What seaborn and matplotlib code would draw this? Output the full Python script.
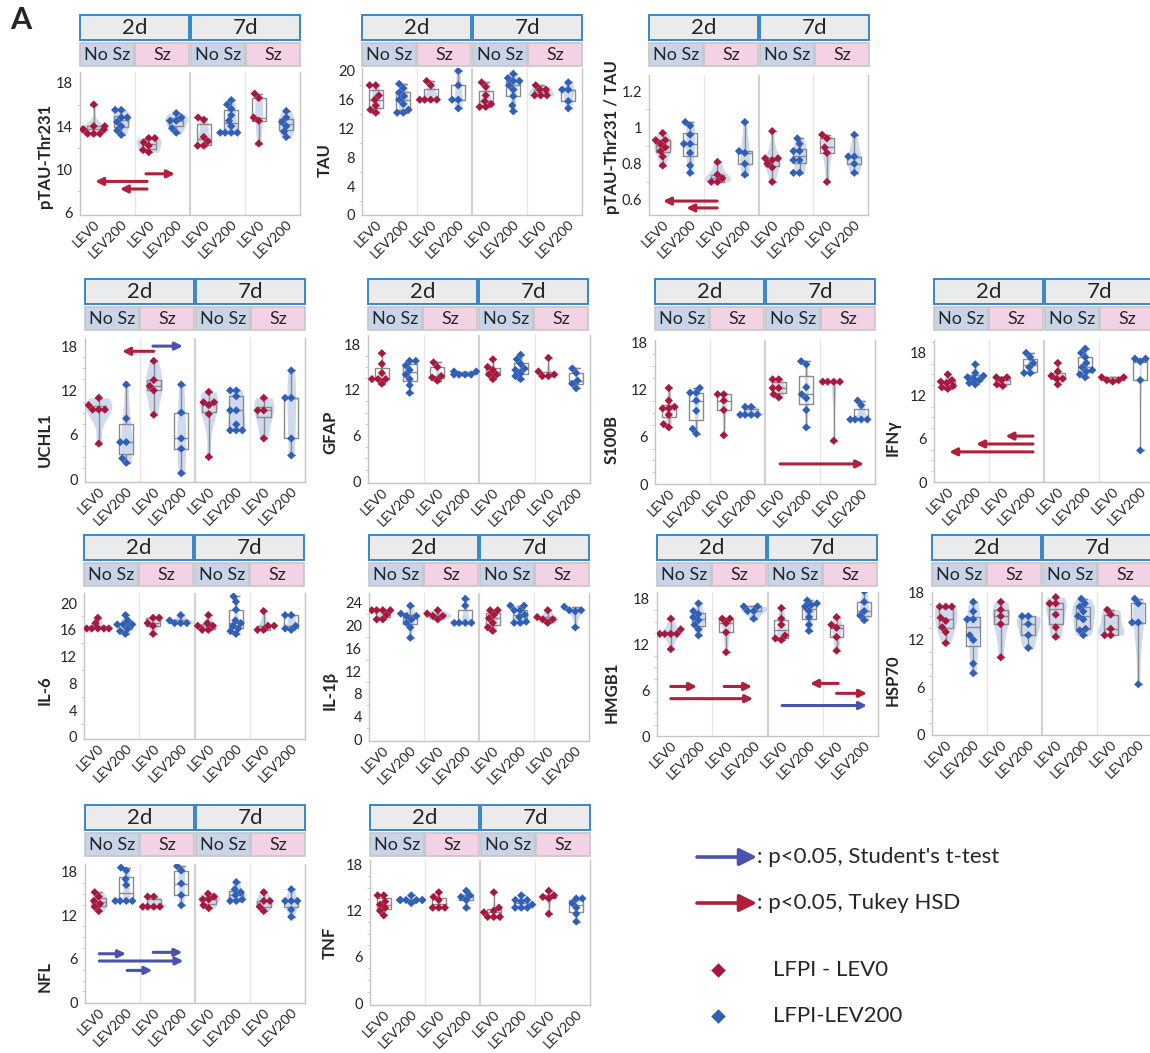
"""
LFPI biomarker panel: box + violin + swarm per group, with significance arrows
"""
import matplotlib
matplotlib.use('Agg')
import matplotlib.pyplot as plt
from matplotlib.patches import Rectangle
from matplotlib.ticker import AutoMinorLocator
import numpy as np
import pandas as pd
import seaborn as sns

sns.set_style('white')
plt.rcParams['font.family'] = ['Lato', 'DejaVu Sans']

W, H = 1150, 1053

# group layout: day -> seizure status -> treatment
days = ['2d', '7d']
seizure = ['No Sz', 'Sz']
treatments = ['LEV0', 'LEV200']
tick_labels = treatments * 4
group_keys = [f'{d} {s} {t}' for d in days for s in seizure for t in treatments]

# values per group, in group_keys order
ptau = [[16.0, 14.0, 14.0, 13.7, 13.7, 13.7, 13.3, 13.3, 13.3],
        [15.5, 15.5, 14.8, 14.8, 14.4, 14.0, 13.6, 13.2],
        [12.9, 12.9, 12.5, 12.2, 11.8, 11.6],
        [15.2, 14.8, 14.5, 14.5, 13.8, 13.4],
        [14.8, 14.6, 13.0, 12.6, 12.2, 12.2],
        [16.4, 16.0, 15.6, 15.0, 14.5, 14.0, 13.4, 13.4, 13.4, 13.4],
        [17.0, 16.6, 14.8, 14.5, 12.4],
        [15.4, 14.8, 14.4, 14.0, 13.5, 13.0]]
tau = [[18.0, 18.0, 16.6, 16.0, 15.2, 14.6, 14.2],
       [18.2, 17.6, 17.0, 16.5, 16.0, 15.4, 14.6, 14.2, 14.2],
       [18.6, 18.0, 16.0, 16.0, 16.0, 16.0],
       [20.0, 18.0, 16.0, 16.0, 14.8],
       [18.4, 17.8, 16.6, 15.8, 15.4, 15.0, 15.0],
       [19.6, 19.0, 18.6, 18.6, 18.0, 17.4, 16.5, 15.2, 14.4],
       [18.0, 17.4, 17.4, 16.6, 16.6, 16.6],
       [18.4, 17.4, 17.4, 15.8, 14.8]]
ratio = [[0.97, 0.93, 0.93, 0.91, 0.89, 0.87, 0.84, 0.79],
         [1.03, 1.01, 0.96, 0.91, 0.91, 0.86, 0.79, 0.75],
         [0.81, 0.74, 0.72, 0.70, 0.70],
         [1.03, 0.87, 0.86, 0.80, 0.74],
         [0.98, 0.83, 0.83, 0.82, 0.80, 0.78, 0.70],
         [0.94, 0.91, 0.87, 0.87, 0.82, 0.82, 0.75, 0.75],
         [0.96, 0.94, 0.89, 0.86, 0.70],
         [0.96, 0.84, 0.84, 0.80, 0.75]]
uchl1 = [[11.0, 10.0, 9.4, 9.4, 9.4, 4.8],
         [12.8, 8.2, 5.0, 5.0, 2.8, 2.2],
         [16.0, 13.4, 12.6, 12.0, 8.7],
         [12.8, 9.0, 5.5, 4.1, 0.8],
         [11.8, 10.4, 10.4, 10.0, 8.8, 3.0],
         [12.0, 12.0, 11.2, 9.3, 9.3, 7.4, 6.6, 6.6, 6.6],
         [11.0, 9.3, 9.3, 5.5],
         [14.7, 11.0, 11.0, 5.5, 3.2]]
gfap = [[16.8, 15.4, 14.2, 13.4, 13.4, 13.4, 12.8],
        [15.8, 15.8, 15.2, 14.6, 14.0, 13.4, 12.6, 11.6],
        [15.6, 15.0, 13.8, 13.6, 13.2],
        [14.4, 14.4, 14.0, 14.0, 14.0, 14.0],
        [16.0, 15.0, 14.6, 14.0, 14.0, 13.4],
        [16.6, 16.0, 15.4, 14.8, 14.6, 14.2, 13.8, 13.4],
        [16.2, 14.4, 14.0, 13.8, 13.8],
        [14.8, 14.2, 13.2, 12.8, 12.2]]
s100b = [[12.2, 10.6, 9.8, 9.6, 9.6, 8.8, 7.6, 7.2],
         [12.2, 11.6, 11.6, 10.6, 9.3, 7.0, 6.4],
         [11.4, 11.4, 10.6, 9.4, 6.2],
         [9.8, 9.8, 8.8, 8.8, 8.8, 8.8],
         [13.3, 13.3, 12.2, 12.2, 11.4, 11.0],
         [15.6, 15.2, 12.3, 11.4, 10.9, 9.4, 7.2],
         [13.0, 13.0, 13.0, 13.0, 5.5],
         [10.6, 10.0, 8.2, 8.2, 8.2, 8.2]]
ifng = [[15.0, 14.2, 14.0, 13.8, 13.4, 13.2, 13.0],
        [16.4, 15.2, 14.8, 14.6, 14.4, 14.2, 13.8, 13.6],
        [14.6, 14.6, 14.2, 13.6, 13.4],
        [18.0, 17.4, 16.6, 16.0, 15.2, 15.2],
        [16.6, 15.4, 14.8, 14.4, 14.4, 13.6],
        [18.6, 18.0, 17.4, 16.6, 16.0, 15.6, 15.4, 15.0, 14.6],
        [14.6, 14.6, 14.2, 14.2, 14.0],
        [17.2, 17.2, 16.8, 14.2, 4.4]]
il6 = [[17.8, 17.0, 16.2, 16.2, 16.2, 16.2, 16.2],
       [18.2, 17.4, 16.8, 16.8, 16.8, 16.2, 15.8, 15.4],
       [17.8, 17.8, 17.0, 16.6, 15.4],
       [18.2, 17.4, 17.0, 17.0, 17.0],
       [18.2, 17.0, 16.6, 16.6, 16.0, 16.0],
       [21.0, 20.2, 19.0, 17.4, 17.0, 16.6, 16.2, 15.8, 15.4],
       [18.8, 16.6, 16.6, 16.0, 16.0],
       [18.2, 18.2, 16.6, 16.2, 16.0]]
il1b = [[22.6, 22.6, 22.6, 22.6, 21.8, 21.0, 21.0],
        [23.4, 22.0, 21.6, 21.6, 21.0, 20.4, 19.6, 17.8],
        [22.6, 22.0, 21.6, 21.6, 21.0],
        [24.6, 23.4, 20.4, 20.4, 20.4, 20.4],
        [22.6, 22.6, 21.8, 21.2, 20.4, 19.6, 19.0],
        [23.4, 23.4, 22.6, 22.6, 21.8, 21.4, 20.6, 20.4, 20.4],
        [22.6, 21.4, 21.0, 21.0, 20.4],
        [23.2, 22.6, 22.6, 22.4, 19.6]]
hmgb1 = [[15.4, 14.0, 13.4, 13.4, 13.4, 13.4, 11.4],
         [17.4, 16.4, 16.0, 15.6, 15.2, 14.6, 14.0, 13.2],
         [15.4, 15.4, 14.8, 13.6, 11.0],
         [17.0, 17.0, 16.4, 16.4, 15.4],
         [16.8, 15.4, 14.6, 13.2, 12.8, 12.6],
         [17.8, 17.4, 17.2, 17.0, 16.4, 15.6, 14.6, 13.8],
         [15.6, 14.6, 14.2, 13.0, 11.2],
         [19.0, 17.6, 16.4, 15.8, 15.2]]
hsp70 = [[16.2, 16.2, 16.2, 14.8, 14.4, 13.6, 13.0, 11.6],
         [16.8, 15.6, 14.6, 14.6, 12.6, 12.0, 9.0, 7.8],
         [16.8, 15.8, 15.0, 14.0, 9.8],
         [15.0, 15.0, 14.0, 12.6, 11.0],
         [17.4, 16.6, 16.6, 15.2, 13.6, 12.4],
         [17.2, 16.6, 16.2, 15.6, 15.0, 14.6, 13.4, 13.2, 12.6],
         [15.8, 15.2, 13.4, 12.6, 12.6],
         [17.2, 16.6, 14.2, 14.2, 6.4]]
nfl = [[15.2, 14.6, 14.0, 13.6, 13.2, 12.6],
       [18.6, 18.2, 17.0, 16.2, 14.0, 14.0, 14.0, 14.0],
       [14.6, 14.6, 13.2, 13.2, 13.2, 13.2],
       [18.8, 18.2, 16.4, 14.8, 13.4],
       [15.0, 14.6, 14.2, 14.2, 13.4, 13.0],
       [16.6, 15.6, 15.2, 14.8, 14.2, 14.0, 14.0],
       [15.2, 14.0, 14.0, 13.2, 12.6],
       [15.6, 14.0, 14.0, 14.0, 12.8, 11.8]]
tnf = [[14.0, 14.0, 13.2, 12.8, 12.4, 12.0, 11.4],
       [14.0, 13.4, 13.4, 13.4, 13.4, 13.4, 13.4, 13.4, 13.0],
       [14.4, 13.8, 13.4, 12.4, 12.4, 12.4],
       [14.6, 14.0, 13.8, 13.4, 12.4],
       [14.4, 12.4, 12.0, 11.8, 11.2, 11.2, 11.2],
       [14.0, 13.4, 13.4, 13.2, 12.8, 12.4, 12.4, 12.4],
       [14.6, 14.0, 13.8, 13.6, 11.6],
       [13.6, 13.6, 13.0, 12.4, 11.6, 10.6]]

# significance arrows: (from group, to group, y, test)
ptau_arrows = [(1.94, 0.05, 8.9, 'tukey'), (1.94, 0.95, 8.2, 'tukey'), (1.9, 2.95, 9.6, 'tukey')]
ratio_arrows = [(1.99, 0.01, 0.594, 'tukey'), (1.99, 0.86, 0.556, 'tukey')]
uchl1_arrows = [(2.0, 0.85, 17.3, 'tukey'), (1.97, 3.06, 18.0, 'ttest')]
s100b_arrows = [(4.05, 7.1, 2.55, 'tukey')]
ifng_arrows = [(3.1, 2.1, 6.4, 'tukey'), (3.1, 1.03, 5.3, 'tukey'), (3.1, 0.05, 4.2, 'tukey')]
hmgb1_arrows = [(0.0, 0.95, 6.5, 'tukey'), (1.93, 2.94, 6.5, 'tukey'), (0.0, 2.98, 4.9, 'tukey'),
                (6.06, 5.04, 6.9, 'tukey'), (6.0, 7.1, 5.6, 'tukey'), (4.03, 7.1, 4.0, 'ttest')]
nfl_arrows = [(0.02, 0.99, 6.7, 'ttest'), (1.98, 3.04, 6.9, 'ttest'),
              (0.02, 3.08, 5.7, 'ttest'), (1.03, 1.95, 4.4, 'ttest')]

# colours
RED = '#a9173d'
BLUE = '#2f5fb6'
ARROW = {'tukey': '#b0203a', 'ttest': '#4a52b0'}
VIOLIN = '#cfdaee'
BOXC = '#8a8a8a'
SPINE = '#c4c4c4'
HEAD_FACE = '#ebebeb'
HEAD_EDGE = '#3a86c6'
SUB_FACE = {'No Sz': '#c8d5e9', 'Sz': '#f2d2e4'}
SUB_EDGE = '#c6c6c6'
PALETTE = {'LEV0': RED, 'LEV200': BLUE}

# panel layout: axes box in px (left, right, top, bottom), header top, label centre
panels = [
    dict(vals=ptau, arrows=ptau_arrows, label='pTAU-Thr231', ylim=(5.8, 19.0), yticks=[6, 10, 14, 18],
         minor=2, box=(80, 300, 72, 215), head=15, lab=(45, 156)),
    dict(vals=tau, arrows=[], label='TAU', ylim=(0, 20.4), yticks=[0, 4, 8, 12, 16, 20],
         minor=2, box=(362, 582, 68, 215), head=15, lab=(325, 160)),
    dict(vals=ratio, arrows=ratio_arrows, label='pTAU-Thr231 / TAU', ylim=(0.517, 1.29),
         yticks=[0.6, 0.8, 1.0, 1.2], minor=2, box=(649, 868, 75, 215), head=15, lab=(612, 137),
         fmt=lambda v: f'{v:g}'),
    dict(vals=uchl1, arrows=uchl1_arrows, label='UCHL1', ylim=(-0.4, 19.1), yticks=[0, 6, 12, 18],
         minor=4, box=(85, 305, 338, 482), head=279, lab=(45, 440)),
    dict(vals=gfap, arrows=[], label='GFAP', ylim=(-0.26, 19.2), yticks=[0, 6, 12, 18],
         minor=4, box=(368, 590, 335, 483), head=279, lab=(330, 432)),
    dict(vals=s100b, arrows=s100b_arrows, label='S100B', ylim=(0, 18.3), yticks=[0, 6, 12, 18],
         minor=4, box=(655, 875, 340, 484), head=279, lab=(612, 440)),
    dict(vals=ifng, arrows=ifng_arrows, label='IFNγ', ylim=(0, 19.8), yticks=[0, 6, 12, 18],
         minor=4, box=(934, 1154, 340, 482), head=279, lab=(893, 438)),
    dict(vals=il6, arrows=[], label='IL-6', ylim=(-0.3, 21.5), yticks=[0, 4, 8, 12, 16, 20],
         minor=2, box=(84, 305, 593, 739), head=535, lab=(45, 690)),
    dict(vals=il1b, arrows=[], label='IL-1β', ylim=(-0.2, 25.6), yticks=[0, 4, 8, 12, 16, 20, 24],
         minor=2, box=(369, 589, 593, 741), head=535, lab=(330, 690)),
    dict(vals=hmgb1, arrows=hmgb1_arrows, label='HMGB1', ylim=(0, 18.9), yticks=[0, 6, 12, 18],
         minor=4, box=(657, 878, 592, 736), head=535, lab=(612, 692)),
    dict(vals=hsp70, arrows=[], label='HSP70', ylim=(0, 18.05), yticks=[0, 6, 12, 18],
         minor=4, box=(932, 1152, 592, 735), head=535, lab=(893, 680)),
    dict(vals=nfl, arrows=nfl_arrows, label='NFL', ylim=(-0.1, 19.1), yticks=[0, 6, 12, 18],
         minor=4, box=(85, 305, 864, 1003), head=805, lab=(45, 976)),
    dict(vals=tnf, arrows=[], label='TNF', ylim=(-0.25, 18.6), yticks=[0, 6, 12, 18],
         minor=4, box=(370, 590, 860, 1005), head=805, lab=(330, 943)),
]


def make_frame(vals):
    rows = []
    for key, group in zip(group_keys, vals):
        for v in group:
            rows.append({'group': key, 'treatment': key.split()[-1], 'value': v})
    return pd.DataFrame(rows)


def px_rect(fig, x, y, w, h, face, edge, lw):
    """矩形，像素坐标（左上角原点）"""
    rect = Rectangle((x / W, 1 - (y + h) / H), w / W, h / H, transform=fig.transFigure,
                     facecolor=face, edgecolor=edge, linewidth=lw)
    fig.add_artist(rect)


def px_text(fig, x, y, s, **kw):
    fig.text(x / W, 1 - y / H, s, **kw)


def draw_header(fig, left, top):
    for i, d in enumerate(days):
        x0 = left + i * 111
        px_rect(fig, x0, top, 109, 25, HEAD_FACE, HEAD_EDGE, 1.4)
        px_text(fig, x0 + 54.5, top + 13, d, ha='center', va='center', fontsize=16)
        for j, s in enumerate(seizure):
            x1 = x0 + j * 55
            px_rect(fig, x1, top + 28, 54, 23, SUB_FACE[s], SUB_EDGE, 1.2)
            px_text(fig, x1 + 27, top + 40, s, ha='center', va='center', fontsize=13)


def draw_panel(fig, p):
    l, r, t, b = p['box']
    ax = fig.add_axes([l / W, 1 - b / H, (r - l) / W, (b - t) / H])
    df = make_frame(p['vals'])

    sns.violinplot(data=df, x='group', y='value', order=group_keys, color=VIOLIN, inner=None,
                   linewidth=0, cut=0, density_norm='area', width=0.95, saturation=1, ax=ax)
    sns.boxplot(data=df, x='group', y='value', order=group_keys, fill=False, color=BOXC,
                width=0.5, whis=(0, 100), linewidth=1, showfliers=False, ax=ax)
    # 须线端帽
    for i, g in enumerate(p['vals']):
        ax.hlines([min(g), max(g)], i - 0.13, i + 0.13, color=BOXC, lw=1, zorder=3)
    sns.swarmplot(data=df, x='group', y='value', hue='treatment', order=group_keys,
                  palette=PALETTE, marker='D', size=4.2, linewidth=0, legend=False, ax=ax)

    # 分组分隔线
    ax.axvline(1.5, color='#e6e6e6', lw=1, zorder=0)
    ax.axvline(3.5, color='#d2d2d2', lw=1.6, zorder=0)
    ax.axvline(5.5, color='#e6e6e6', lw=1, zorder=0)

    for x0, x1, y, test in p['arrows']:
        ax.annotate('', xy=(x1, y), xytext=(x0, y),
                    arrowprops=dict(arrowstyle='-|>', color=ARROW[test], lw=2.2,
                                    mutation_scale=11, shrinkA=0, shrinkB=0))

    ax.set_xlim(-0.5, 7.5)
    ax.set_ylim(*p['ylim'])
    ax.set_yticks(p['yticks'])
    if 'fmt' in p:
        ax.set_yticklabels([p['fmt'](v) for v in p['yticks']])
    ax.yaxis.set_minor_locator(AutoMinorLocator(p['minor']))
    ax.set_xticks(range(8))
    ax.set_xticklabels(tick_labels, rotation=45, ha='right', rotation_mode='anchor')
    ax.set_xlabel('')
    ax.set_ylabel('')
    ax.tick_params(axis='x', length=0, labelsize=10, pad=2)
    ax.tick_params(axis='y', which='major', length=3, color=SPINE, labelsize=10.5, pad=2)
    ax.tick_params(axis='y', which='minor', length=2, color=SPINE, left=True)
    for side in ['left', 'bottom', 'right']:
        ax.spines[side].set_color(SPINE)
        ax.spines[side].set_linewidth(1)
    ax.spines['top'].set_visible(False)

    draw_header(fig, l, p['head'])
    px_text(fig, p['lab'][0], p['lab'][1], p['label'], rotation=90, ha='center', va='center',
            fontsize=12, fontweight='bold')
    return ax


def draw_legend(fig):
    ax = fig.add_axes([650 / W, 0, 500 / W, 233 / H])
    ax.set_xlim(650, 1150)
    ax.set_ylim(1053, 820)
    ax.axis('off')
    for y, test, txt in [(857, 'ttest', ": p<0.05, Student's t-test"),
                         (903, 'tukey', ': p<0.05, Tukey HSD')]:
        ax.annotate('', xy=(757, y), xytext=(697, y),
                    arrowprops=dict(arrowstyle='-|>', color=ARROW[test], lw=2.6,
                                    mutation_scale=26, shrinkA=0, shrinkB=0))
        ax.text(757, y, txt, ha='left', va='center', fontsize=16)
    for y, trt, txt in [(970, 'LEV0', 'LFPI - LEV0'), (1016, 'LEV200', 'LFPI-LEV200')]:
        ax.scatter([718], [y], marker='D', s=55, color=PALETTE[trt], linewidths=0)
        ax.text(773, y, txt, ha='left', va='center', fontsize=16)


def main():
    fig = plt.figure(figsize=(W / 100, H / 100), dpi=100)
    for p in panels:
        draw_panel(fig, p)
    draw_legend(fig)
    px_text(fig, 10, 6, 'A', ha='left', va='top', fontsize=22, fontweight='bold')
    fig.savefig('out.png', dpi=100)


if __name__ == '__main__':
    main()
